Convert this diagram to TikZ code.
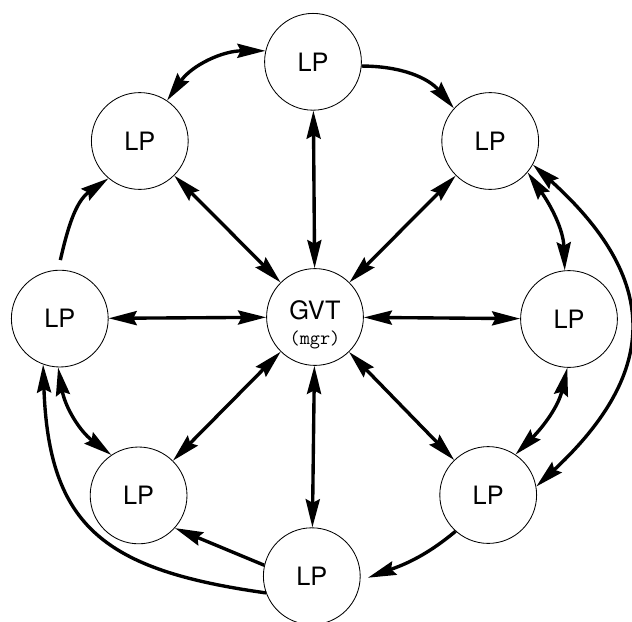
\documentclass[tikz,border=0pt]{standalone}
\usepackage{fontspec}
\setmainfont{TeX Gyre Heros}
\usetikzlibrary{arrows.meta}

\begin{document}
\begin{tikzpicture}[lp/.style = {circle, draw, line width=0.6pt, align=center, inner sep=0, minimum size=2.42cm, font=\fontsize{18}{20}\selectfont},
                    link/.style = {line width=2.4pt},
                    >={Stealth[length=20pt, width=10pt, inset=2.5pt]}]
    \useasboundingbox (-7.875,-7.6) rectangle (7.925,7.925);

    \node[lp, text depth=10pt] (G)  at (0,0)          {GVT};
    \node[font=\ttfamily\fontsize{14}{14}\selectfont] (mgr) at (0,-0.58) {(mgr)};

    \node[lp]              (N)  at (-0.05,6.38)   {LP};
    \node[lp]              (NW) at (-4.38,4.4)    {LP};
    \node[lp]              (NE) at (4.38,4.4)     {LP};
    \node[lp]              (W)  at (-6.38,-0.04)  {LP};
    \node[lp]              (E)  at (6.35,-0.05)   {LP};
    \node[lp]              (SW) at (-4.41,-4.46)  {LP};
    \node[lp]              (SE) at (4.33,-4.45)   {LP};
    \node[lp]              (S)  at (-0.08,-6.48)  {LP};

    % spokes to the manager
    \draw[link, <->] (G) -- (N);
    \draw[link, <->] (G) -- (NW);
    \draw[link, <->] (G) -- (NE);
    \draw[link, <->] (G) -- (W);
    \draw[link, <->] (G) -- (E);
    \draw[link, <->] (G) -- (SW);
    \draw[link, <->] (G) -- (SE);
    \draw[link, <->] (G) -- (S);

    % ring
    \draw[link, <->] (NW.56)  to [out=55,in=180]   (N.167);
    \draw[link, ->]  (N.-5)   to [out=0,in=130]    (NE.138);
    \draw[link, <->] (NE.-40) to [out=-55,in=92]   (E.95);
    \draw[link, <->] (E.-92)  to [out=-103,in=45]  (SE.56);
    \draw[link, ->, shorten >=0.2cm] (SE.228) to [out=220,in=20] (S.-5);
    \draw[link, ->]  (S.167)  --                   (SW.-42);
    \draw[link, <->] (W.-92)  to [out=-80,in=143]  (SW.124);
    \draw[link, ->, shorten <=0.25cm] (W.92) to [out=77,in=215] (NW.230);

    % outer links
    \draw[link, <->] (NE.-29) to [out=-42,in=43,looseness=1.35] (SE.10);
    \draw[link, ->]  (S.200)  to [out=172,in=-88,looseness=1.3] (W.250);
\end{tikzpicture}
\end{document}
